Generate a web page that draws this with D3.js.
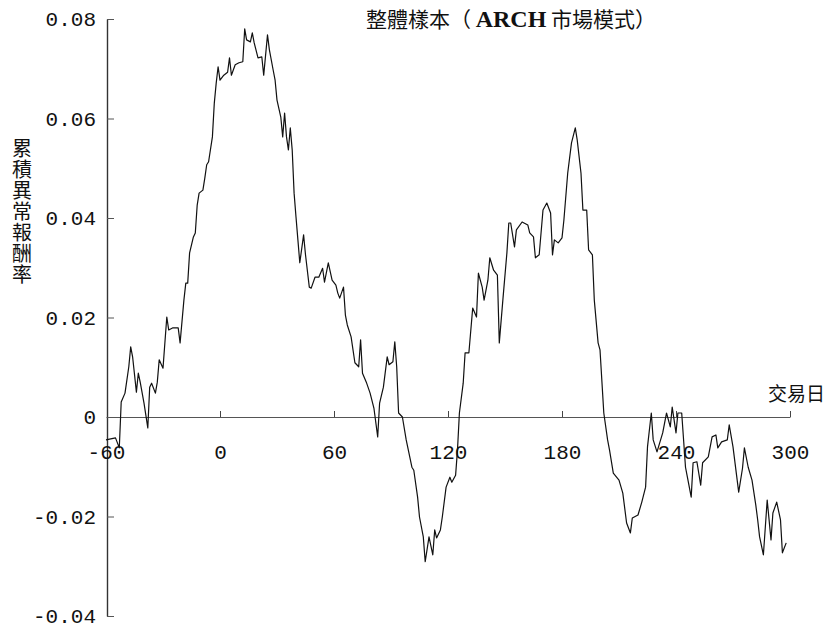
<!DOCTYPE html>
<html>
<head>
<meta charset="utf-8">
<script src="https://cdn.jsdelivr.net/npm/d3@7"></script>
<style>
  html, body { margin: 0; padding: 0; background: #fff; }
  svg { display: block; }
</style>
</head>
<body>
<svg id="chart" width="832" height="631"></svg>
<script>
// Event-study window (trading days relative to the event)
const days = [
  -60,-55,-53,-52,-50,-48,-47,-46,-44,-43,-42,-40,-38,-37,-36,-34,-33,-32,-30,-28,
  -27,-25,-22,-21,-19,-18,-17,-16,-14,-13,-12,-11,-9,-8,-7,-6,-4,-3,-2,-1,
  0,2,4,5,6,8,10,12,13,14,16,17,18,20,22,23,25,26,28,29,
  30,32,33,34,35,36,37,38,39,40,41,42,44,45,47,48,50,52,54,55,
  57,59,61,62,63,65,66,67,69,71,73,74,75,77,79,81,83,84,86,88,
  89,91,92,93,94,96,98,101,102,104,105,107,108,110,112,113,114,116,117,119,
  121,122,124,125,126,128,129,131,133,135,136,138,139,141,142,144,146,147,149,151,
  152,153,155,156,159,162,163,165,166,168,170,172,174,175,176,178,180,181,183,185,
  187,188,190,191,193,194,196,197,199,200,202,204,205,207,210,212,214,216,217,220,
  222,224,225,227,228,230,233,235,237,238,240,241,243,245,246,248,249,251,253,254,
  257,259,261,262,264,267,268,270,273,275,276,278,280,282,283,284,286,288,290,291,
  293,295,296,298
];

// Cumulative abnormal return (ARCH market model), full sample
const car = [
  -0.0046,-0.0042,-0.0062,0.0030,0.0048,0.0101,0.0141,0.0121,0.0050,0.0088,0.0070,0.0028,-0.0022,0.0060,0.0068,0.0048,0.0070,0.0115,0.0098,0.0201,
  0.0175,0.0179,0.0179,0.0149,0.0235,0.0269,0.0269,0.0330,0.0362,0.0370,0.0426,0.0450,0.0456,0.0480,0.0507,0.0513,0.0563,0.0631,0.0671,0.0704,
  0.0677,0.0687,0.0693,0.0722,0.0687,0.0708,0.0712,0.0714,0.0780,0.0758,0.0754,0.0772,0.0752,0.0722,0.0724,0.0687,0.0768,0.0738,0.0697,0.0677,
  0.0637,0.0603,0.0563,0.0611,0.0563,0.0537,0.0581,0.0537,0.0450,0.0402,0.0356,0.0310,0.0366,0.0326,0.0261,0.0259,0.0281,0.0281,0.0299,0.0271,
  0.0310,0.0275,0.0265,0.0249,0.0239,0.0261,0.0205,0.0185,0.0161,0.0109,0.0101,0.0155,0.0088,0.0070,0.0048,0.0018,-0.0040,0.0028,0.0060,0.0121,
  0.0105,0.0111,0.0151,0.0101,0.0008,0.0000,-0.0046,-0.0101,-0.0107,-0.0161,-0.0201,-0.0241,-0.0291,-0.0241,-0.0277,-0.0227,-0.0243,-0.0227,-0.0201,-0.0141,
  -0.0121,-0.0131,-0.0117,-0.0066,0.0008,0.0068,0.0129,0.0129,0.0219,0.0201,0.0289,0.0261,0.0235,0.0275,0.0320,0.0295,0.0285,0.0149,0.0241,0.0330,
  0.0390,0.0390,0.0342,0.0376,0.0392,0.0386,0.0370,0.0362,0.0320,0.0326,0.0416,0.0430,0.0410,0.0326,0.0356,0.0350,0.0360,0.0396,0.0490,0.0551,
  0.0581,0.0557,0.0490,0.0416,0.0416,0.0336,0.0326,0.0235,0.0149,0.0135,0.0008,-0.0046,-0.0066,-0.0113,-0.0127,-0.0153,-0.0213,-0.0233,-0.0203,-0.0197,
  -0.0171,-0.0141,-0.0060,0.0008,-0.0046,-0.0070,-0.0032,0.0008,-0.0020,0.0020,-0.0032,0.0008,0.0008,-0.0101,-0.0121,-0.0161,-0.0092,-0.0090,-0.0137,-0.0092,
  -0.0080,-0.0040,-0.0036,-0.0062,-0.0050,-0.0046,-0.0016,-0.0060,-0.0151,-0.0103,-0.0062,-0.0101,-0.0127,-0.0177,-0.0207,-0.0241,-0.0277,-0.0167,-0.0247,-0.0193,
  -0.0171,-0.0207,-0.0273,-0.0253
];

const xTicks = [-60, 0, 60, 120, 180, 240, 300];
const xTickLabels = ["-60", "0", "60", "120", "180", "240", "300"];
const yTicks = [-0.04, -0.02, 0, 0.02, 0.04, 0.06, 0.08];
const yTickLabels = ["-0.04", "-0.02", "0", "0.02", "0.04", "0.06", "0.08"];

const titleText = "整體樣本（ ARCH 市場模式）";
const yTitle = "累積異常報酬率";
const xTitle = "交易日";

const svg = d3.select("#chart");

const x = d3.scaleLinear().domain([-60, 300]).range([106, 790]);
const y = d3.scaleLinear().domain([-0.04, 0.08]).range([616, 19]);

const tickFont = "'Liberation Mono', 'DejaVu Sans Mono', monospace";
const cjkFont = "'Noto Sans CJK TC', 'Noto Sans CJK SC', sans-serif";

// Y axis: line at day -60, ticks pointing inward
const yAxis = svg.append("g")
  .attr("transform", `translate(${x(-60) + 1},0)`)
  .call(d3.axisLeft(y)
    .tickValues(yTicks)
    .tickFormat((d, i) => yTickLabels[i])
    .tickSizeInner(-7)
    .tickSizeOuter(0)
    .tickPadding(11));
yAxis.select(".domain").attr("stroke", "#333").attr("stroke-width", 1.4);
yAxis.selectAll(".tick line").attr("stroke", "#555").attr("stroke-width", 1);
yAxis.selectAll(".tick text")
  .attr("font-family", tickFont)
  .attr("font-size", 21)
  .attr("fill", "#111");

// X axis along zero, ticks pointing up
const xAxis = svg.append("g")
  .attr("transform", `translate(0,${y(0)})`)
  .call(d3.axisBottom(x)
    .tickValues(xTicks)
    .tickFormat((d, i) => xTickLabels[i])
    .tickSizeInner(-6)
    .tickSizeOuter(0)
    .tickPadding(27));
xAxis.select(".domain").attr("stroke", "#555").attr("stroke-width", 1);
xAxis.selectAll(".tick line")
  .attr("stroke", "#444")
  .attr("stroke-width", 1)
  .attr("opacity", d => d === -60 ? 0 : 1);
xAxis.selectAll(".tick text")
  .attr("font-family", tickFont)
  .attr("font-size", 21)
  .attr("fill", "#111");

// CAR line
const series = days.map((d, i) => ({ day: d, v: car[i] }));
svg.append("path")
  .datum(series)
  .attr("fill", "none")
  .attr("stroke", "#111")
  .attr("stroke-width", 1.2)
  .attr("stroke-linejoin", "round")
  .attr("d", d3.line().x(d => x(d.day)).y(d => y(d.v)));

// Title
const title = svg.append("text")
  .attr("x", 511)
  .attr("y", 27)
  .attr("text-anchor", "middle")
  .attr("font-family", cjkFont)
  .attr("font-size", 21)
  .attr("fill", "#111");
const parts = titleText.split("ARCH");
title.append("tspan").text(parts[0]);
title.append("tspan")
  .attr("font-family", "'Liberation Serif', 'DejaVu Serif', serif")
  .attr("font-weight", "bold")
  .attr("font-size", 24)
  .text("ARCH");
title.append("tspan").text(parts[1]);

// Vertical y-axis title, set in vertical writing mode
svg.append("text")
  .attr("x", 22)
  .attr("y", 138)
  .attr("font-family", cjkFont)
  .attr("font-size", 20)
  .attr("letter-spacing", 1)
  .attr("fill", "#111")
  .style("writing-mode", "vertical-rl")
  .text(yTitle);

// X-axis title
svg.append("text")
  .attr("x", 768)
  .attr("y", 401)
  .attr("font-family", cjkFont)
  .attr("font-size", 19)
  .attr("fill", "#111")
  .text(xTitle);
</script>
</body>
</html>
